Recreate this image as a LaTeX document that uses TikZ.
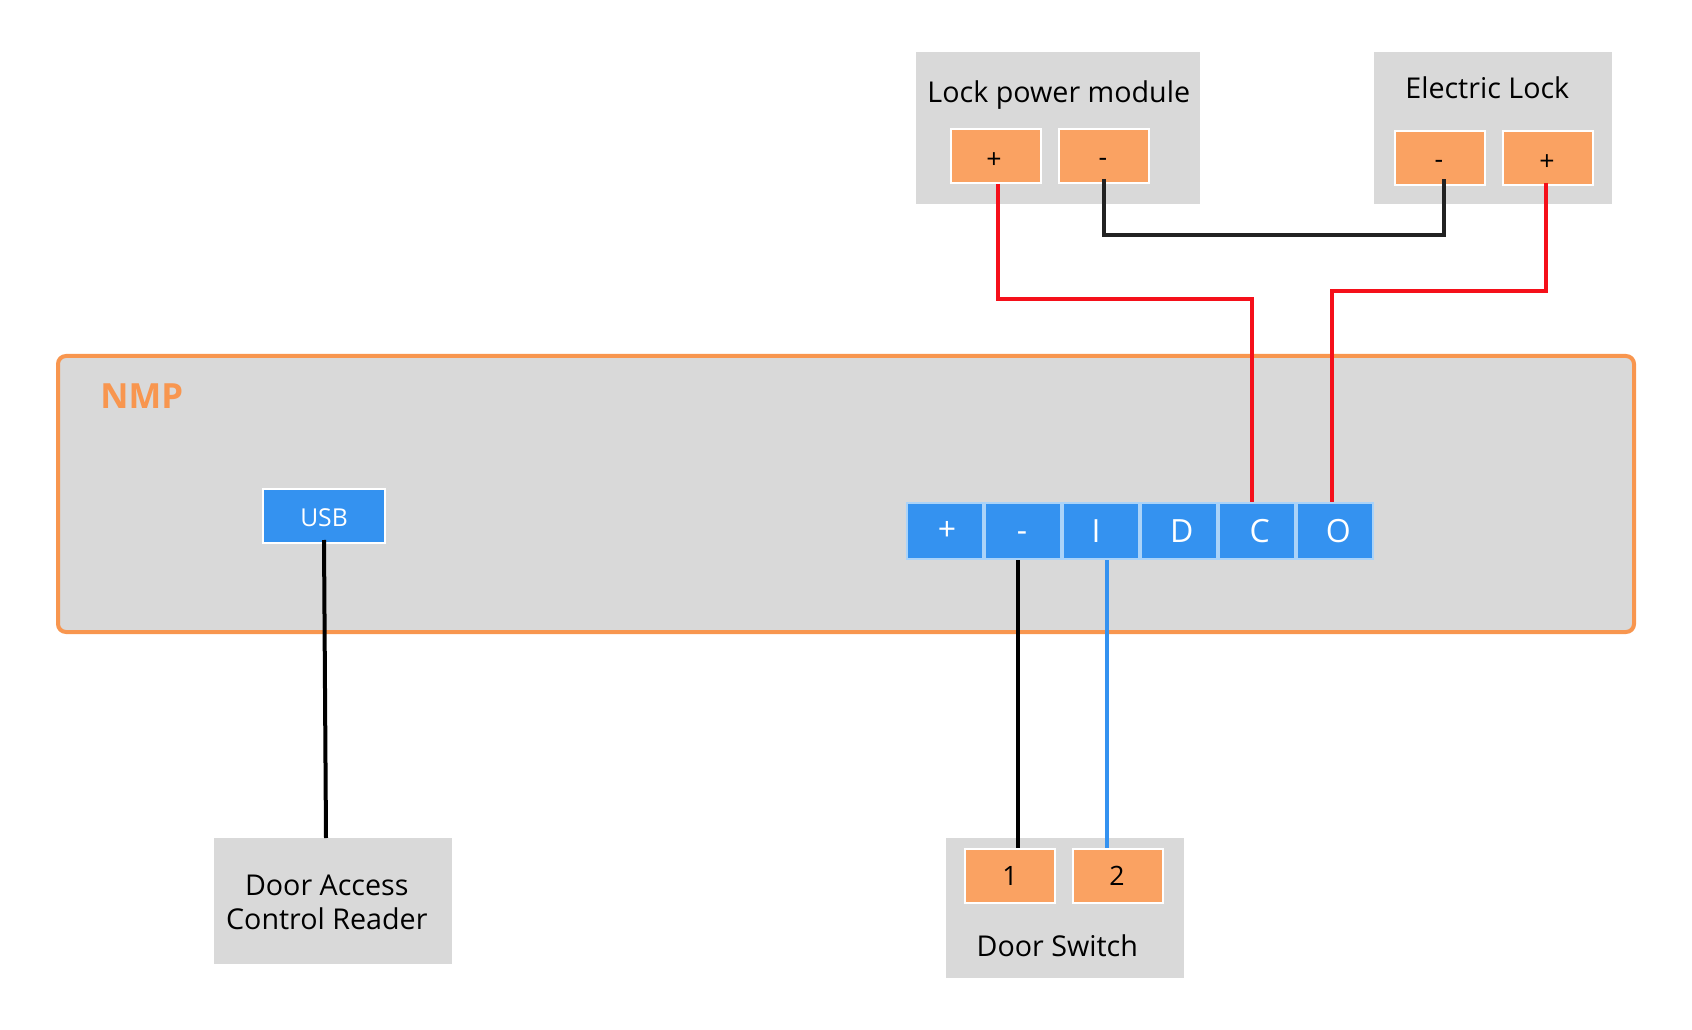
\documentclass[tikz,border=0pt]{standalone}
\usepackage{fontspec}
\setmainfont{Open Sans}
\usetikzlibrary{positioning}

\definecolor{panelgray}{HTML}{D9D9D9}
\definecolor{nmporange}{HTML}{F8964F}
\definecolor{lugorange}{HTML}{FAA262}
\definecolor{portblue}{HTML}{3492F0}
\definecolor{portedge}{HTML}{ABD3F8}
\definecolor{wirered}{HTML}{F5101A}
\definecolor{wiredark}{HTML}{222222}

\begin{document}
\begin{tikzpicture}[x=0.75pt, y=-0.75pt, node distance = 0 pt,
	panel/.style = { rectangle, fill=panelgray, inner sep=0pt, outer sep=0pt},
	caption/.style = { inner sep=0pt, anchor=base,
	font=\fontsize{21.5}{25.5}\selectfont},
	lug/.style = { rectangle, draw=white, line width=1.5pt, fill=lugorange,
	minimum width=67.5pt, minimum height=40.5pt,
	font=\fontsize{20}{24}\selectfont},
	lugplus/.style = { lug, text height=19pt, text depth=0pt},
	lugminus/.style = { lug, text height=16.4pt, text depth=0pt},
	port/.style = { rectangle, draw=portedge, line width=1.5pt, fill=portblue,
	text=white, minimum width=57pt, minimum height=42pt, inner sep=0pt,
	font=\fontsize{24}{28}\selectfont},
	wire/.style = { line width=3pt} ]

  \useasboundingbox (0,0) rectangle (1692,1030);

  \node [name=nmp, draw=nmporange, line width=3pt, fill=panelgray,
	rounded corners=6pt, minimum width=1182pt, minimum height=207pt]
	at (846,494) {};
  \node [name=nmptitle, text=nmporange, inner sep=0pt,
	font=\fontsize{26}{32}\selectfont\bfseries] at (141.7,396) { NMP };

  \node [name=lockpower, panel, minimum width=213pt, minimum height=114pt]
	at (1058,128) {};
  \node [name=locktitle, caption] at (1058.8,102.7) { Lock power module };
  \node [name=lockplus, lugplus] at (996,156) { \hspace{-3pt}+ };
  \node [name=lockminus, lugminus] at (1104,156) { \hspace{-1.5pt}- };

  \node [name=elock, panel, minimum width=178.5pt, minimum height=114pt]
	at (1493,128) {};
  \node [name=elocktitle, caption] at (1487.3,98.7) { Electric Lock };
  \node [name=elockminus, lugminus] at (1440,158) { \hspace{-1.5pt}- };
  \node [name=elockplus, lugplus] at (1548,158) { \hspace{-1.5pt}+ };

  \node [name=usb, rectangle, draw=white, line width=1.5pt, fill=portblue,
	text=white, minimum width=91.5pt, minimum height=40.5pt,
	text height=16.4pt, text depth=0pt,
	font=\fontsize{18.5}{21}\selectfont] at (324,516) { USB };

  \node [name=termplus, port] at (945,531) { \hspace{3pt}+ };
  \node [name=termminus, port, text height=16.4pt, text depth=0pt,
	right=of termplus] { \hspace{-1.5pt}- };
  \node [name=termI, port, right=of termminus] { \hspace{-7.5pt}I };
  \node [name=termD, port, right=of termI] { \hspace{4pt}D };
  \node [name=termC, port, right=of termD] { \hspace{4pt}C };
  \node [name=termO, port, right=of termC] { \hspace{5pt}O };

  \node [name=reader, panel, minimum width=178.5pt, minimum height=94.5pt]
	at (333,901) {};
  \node [name=readertitle, inner sep=0pt, align=center,
	font=\fontsize{21.5}{25.5}\selectfont] at (326.8,902)
	{ Door Access \\ Control Reader };

  \node [name=doorswitch, panel, minimum width=178.5pt, minimum height=105pt]
	at (1065,908) {};
  \node [name=doortitle, caption] at (1057.3,956.7) { Door Switch };
  \node [name=doorone, lug] at (1010,876) { 1 };
  \node [name=doortwo, lug] at (1118,876) { \hspace{-1.5pt}2 };

  % bends of the lock wiring
  \coordinate (powerbend) at (1252,299);
  \coordinate (openbend) at (1332,291);
  \coordinate (groundbend) at (1104,235);

  \draw [wire, wirered] ([xshift=1.5pt]lockplus.south) |- (powerbend)
	-- ([xshift=-3.75pt]termC.north);
  \draw [wire, wirered] ([xshift=-1.5pt, yshift=2.25pt]elockplus.south) |- (openbend)
	-- ([xshift=-2.25pt]termO.north);
  \draw [wire, wiredark] ([yshift=3.75pt]lockminus.south) -- (groundbend)
	-| ([xshift=3pt, yshift=5.25pt]elockminus.south);

  \draw [wire, black] ([yshift=3pt]usb.south) -- ([xshift=-5.25pt]reader.north);
  \draw [wire, black] ([xshift=-3.75pt]termminus.south) -- ([xshift=6pt]doorone.north);
  \draw [wire, portblue] ([xshift=4.5pt]termI.south) -- ([xshift=-8.25pt]doortwo.north);
\end{tikzpicture}
\end{document}
